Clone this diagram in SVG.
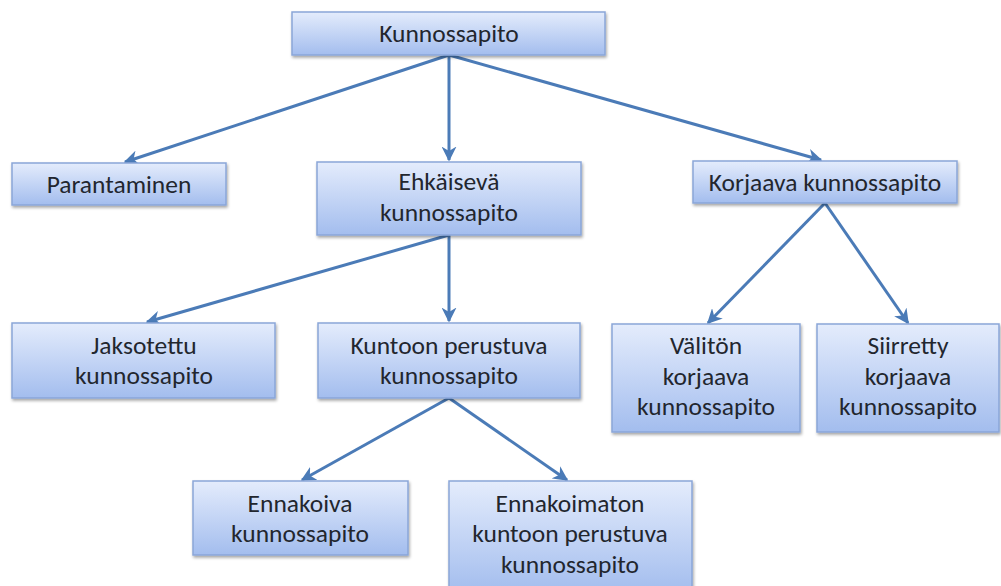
<svg xmlns="http://www.w3.org/2000/svg" width="1001" height="586" viewBox="0 0 1001 586">
<defs>
<linearGradient id="g" x1="0" y1="0" x2="0" y2="1">
<stop offset="0" stop-color="#e4ecfc"/>
<stop offset="1" stop-color="#a3bdee"/>
</linearGradient>
<filter id="sh" x="-10%" y="-10%" width="120%" height="130%">
<feDropShadow dx="1" dy="2" stdDeviation="1.5" flood-color="#000" flood-opacity="0.35"/>
</filter>
<marker id="ah" viewBox="0 0 10 10" refX="9" refY="5" markerWidth="5" markerHeight="5" orient="auto" markerUnits="strokeWidth">
<path d="M0,0 L10,5 L0,10 L3,5 Z" fill="#4b7bb7"/>
</marker>
<style>
.box{fill:url(#g);stroke:#8aa6d8;stroke-width:1.5;filter:url(#sh)}
.t{font-family:Carlito,Lato,"Liberation Sans",sans-serif;font-size:25.5px;fill:#22262e;text-anchor:middle}
.c{fill:none;stroke:#4b7bb7;stroke-width:3;marker-end:url(#ah)}
</style>
</defs>
<rect width="1001" height="586" fill="#fff"/>
<g id="connectors">
<line class="c" x1="449" y1="55" x2="125" y2="162"/>
<line class="c" x1="449" y1="55" x2="449" y2="160"/>
<line class="c" x1="449" y1="55" x2="821" y2="160"/>
<line class="c" x1="449" y1="235" x2="147" y2="322"/>
<line class="c" x1="449" y1="235" x2="449" y2="321"/>
<line class="c" x1="825" y1="203" x2="708" y2="323"/>
<line class="c" x1="825" y1="203" x2="908" y2="323"/>
<line class="c" x1="449" y1="398" x2="302" y2="480"/>
<line class="c" x1="449" y1="398" x2="567" y2="480"/>
</g>
<g id="n1"><rect class="box" x="292" y="12" width="313" height="43"/><text class="t" x="449" y="42">Kunnossapito</text></g>
<g id="n2"><rect class="box" x="12" y="163" width="214" height="42"/><text class="t" x="119" y="193">Parantaminen</text></g>
<g id="n3"><rect class="box" x="317" y="162" width="264" height="73"/><text class="t" x="449" y="190">Ehkäisevä</text><text class="t" x="449" y="221">kunnossapito</text></g>
<g id="n4"><rect class="box" x="693" y="161" width="264" height="42"/><text class="t" x="825" y="191">Korjaava kunnossapito</text></g>
<g id="n5"><rect class="box" x="12" y="323" width="263" height="75"/><text class="t" x="144" y="354">Jaksotettu</text><text class="t" x="144" y="384">kunnossapito</text></g>
<g id="n6"><rect class="box" x="318" y="323" width="262" height="75"/><text class="t" x="449" y="354">Kuntoon perustuva</text><text class="t" x="449" y="384">kunnossapito</text></g>
<g id="n7"><rect class="box" x="612" y="324" width="188" height="108"/><text class="t" x="706" y="354">Välitön</text><text class="t" x="706" y="385">korjaava</text><text class="t" x="706" y="415">kunnossapito</text></g>
<g id="n8"><rect class="box" x="817" y="324" width="182" height="108"/><text class="t" x="908" y="354">Siirretty</text><text class="t" x="908" y="385">korjaava</text><text class="t" x="908" y="415">kunnossapito</text></g>
<g id="n9"><rect class="box" x="193" y="481" width="215" height="74"/><text class="t" x="300" y="512">Ennakoiva</text><text class="t" x="300" y="542">kunnossapito</text></g>
<g id="n10"><rect class="box" x="449" y="481" width="243" height="112"/><text class="t" x="570" y="512">Ennakoimaton</text><text class="t" x="570" y="542">kuntoon perustuva</text><text class="t" x="570" y="573">kunnossapito</text></g>
</svg>
